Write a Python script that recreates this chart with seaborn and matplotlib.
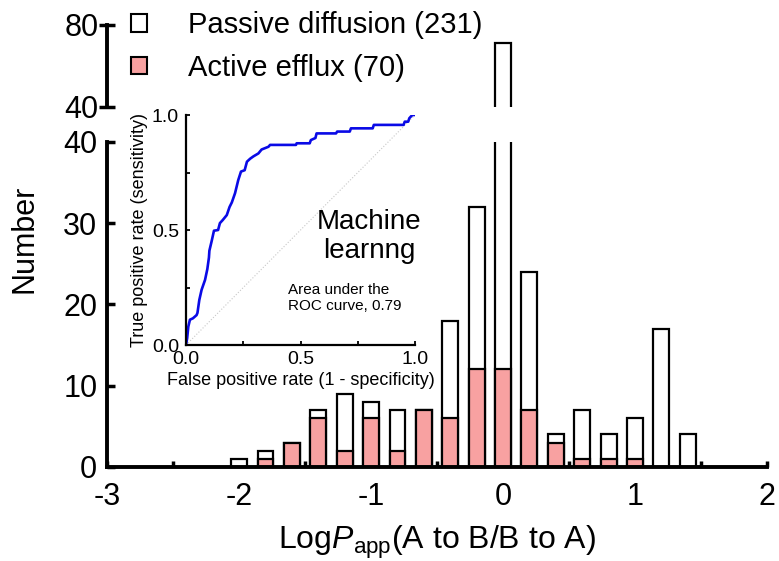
import matplotlib
matplotlib.use("Agg")
import matplotlib.pyplot as plt
import seaborn as sns
import pandas as pd
from matplotlib.patches import Patch

# ---------------- data ----------------
bin_centers = [-2.0, -1.8, -1.6, -1.4, -1.2, -1.0, -0.8, -0.6, -0.4, -0.2,
               0.0, 0.2, 0.4, 0.6, 0.8, 1.0, 1.2, 1.4]
passive = [1, 2, 3, 7, 9, 8, 7, 7, 18, 32, 71, 24, 4, 7, 4, 6, 17, 4]
active = [0, 1, 3, 6, 2, 6, 2, 7, 6, 12, 12, 7, 3, 1, 1, 1, 0, 0]
legend_labels = ["Passive diffusion (231)", "Active efflux (70)"]

roc_fpr = [0.000, 0.005, 0.010, 0.017, 0.030, 0.046, 0.050, 0.058, 0.068, 0.083,
           0.093, 0.100, 0.102, 0.112, 0.122, 0.140, 0.148, 0.160, 0.178, 0.190,
           0.200, 0.214, 0.228, 0.240, 0.256, 0.266, 0.280, 0.294, 0.316, 0.330,
           0.360, 0.367, 0.480, 0.483, 0.540, 0.545, 0.565, 0.570, 0.655, 0.660,
           0.715, 0.720, 0.815, 0.820, 0.950, 0.955, 0.970, 0.975, 0.988, 1.000]
roc_tpr = [0.000, 0.030, 0.080, 0.110, 0.116, 0.130, 0.140, 0.196, 0.240, 0.283,
           0.330, 0.380, 0.410, 0.452, 0.497, 0.500, 0.530, 0.543, 0.565, 0.600,
           0.620, 0.660, 0.717, 0.754, 0.760, 0.797, 0.810, 0.820, 0.833, 0.850,
           0.862, 0.870, 0.870, 0.877, 0.877, 0.891, 0.900, 0.920, 0.920, 0.928,
           0.928, 0.942, 0.942, 0.957, 0.957, 0.971, 0.971, 0.986, 1.000, 1.000]

x_ticks = [-3, -2, -1, 0, 1, 2]
y_ticks_low = [0, 10, 20, 30, 40]
y_ticks_high = [40, 80]
roc_ticks = [0.0, 0.5, 1.0]

PINK = "#F8A1A1"
# --------------------------------------

sns.set_style("ticks")
plt.rcParams["font.family"] = ["Liberation Sans", "DejaVu Sans"]
plt.rcParams["mathtext.fontset"] = "custom"
plt.rcParams["mathtext.rm"] = "Liberation Sans"
plt.rcParams["mathtext.it"] = "Liberation Sans:italic"
for k in ("text.color", "axes.labelcolor", "xtick.color", "ytick.color", "axes.edgecolor"):
    plt.rcParams[k] = "black"

df = pd.DataFrame({"x": bin_centers, "passive": passive, "active": active})
roc = pd.DataFrame({"fpr": roc_fpr, "tpr": roc_tpr})

fig = plt.figure(figsize=(7.79, 5.61), dpi=100)
ax_lo = fig.add_axes([0.1374, 0.1676, 0.8472, 0.5793])
ax_hi = fig.add_axes([0.1374, 0.8093, 0.8472, 0.1462])

for ax in (ax_lo, ax_hi):
    sns.barplot(data=df, x="x", y="passive", native_scale=True, width=0.6,
                color="white", edgecolor="black", linewidth=1.6, saturation=1,
                errorbar=None, ax=ax)
    sns.barplot(data=df, x="x", y="active", native_scale=True, width=0.6,
                color=PINK, edgecolor="black", linewidth=1.6, saturation=1,
                errorbar=None, ax=ax)
    ax.set_xlim(-3, 2)
    ax.set_xlabel("")
    ax.set_ylabel("")
    for s in ("top", "right"):
        ax.spines[s].set_visible(False)
    ax.spines["left"].set_linewidth(2.8)
    ax.spines["bottom"].set_linewidth(2.8)
    ax.patch.set_alpha(0)

ax_lo.set_ylim(0, 40)
ax_lo.set_yticks(y_ticks_low)
ax_lo.set_xticks(x_ticks)
ax_lo.set_xticks([-2.5, -1.5, -0.5, 0.5, 1.5], minor=True)
ax_lo.set_xticklabels([str(t) for t in x_ticks])
ax_lo.tick_params(axis="both", which="major", labelsize=22, width=2.5)
ax_lo.tick_params(axis="y", direction="in", length=6, pad=7)
ax_lo.tick_params(axis="x", which="both", direction="in", length=4.5, width=2.5, pad=11)
ax_lo.set_xlabel(r"Log$\it{P}$$_{\rm{app}}$(A to B/B to A)", fontsize=23, labelpad=8)

ax_hi.set_ylim(40, 80)
ax_hi.set_yticks(y_ticks_high)
ax_hi.spines["bottom"].set_visible(False)
ax_hi.tick_params(axis="x", which="both", bottom=False, labelbottom=False)
ax_hi.tick_params(axis="y", direction="inout", length=12, width=2.5, labelsize=22, pad=0)

fig.text(0.032, 0.575, "Number", rotation=90, fontsize=22, ha="center", va="center")

handles = [Patch(facecolor="white", edgecolor="black", linewidth=1.5),
           Patch(facecolor=PINK, edgecolor="black", linewidth=1.5)]
fig.legend(handles, legend_labels, loc="upper left",
           bbox_to_anchor=(0.165, 0.985), frameon=False, fontsize=21,
           handlelength=0.55, handleheight=0.55, handletextpad=1.4,
           labelspacing=0.5, borderpad=0.1, borderaxespad=0)

# inset ROC
ax_in = fig.add_axes([0.2388, 0.385, 0.294, 0.41])
ax_in.plot([0, 1], [0, 1], color="#c8c8c8", lw=0.8, ls=":")
sns.lineplot(data=roc, x="fpr", y="tpr", sort=False, estimator=None,
             color="#0A0AE6", lw=1.9, ax=ax_in)
ax_in.set_xlim(0, 1)
ax_in.set_ylim(0, 1)
ax_in.set_xticks(roc_ticks)
ax_in.set_yticks(roc_ticks)
ax_in.set_xticks([0.25, 0.75], minor=True)
ax_in.set_yticks([0.25, 0.75], minor=True)
ax_in.set_xticklabels(["0.0", "0.5", "1.0"])
ax_in.set_yticklabels(["0.0", "0.5", "1.0"])
ax_in.tick_params(which="both", direction="in", length=3, width=1.3, labelsize=14)
ax_in.tick_params(axis="x", pad=4)
ax_in.tick_params(axis="y", pad=5)
for s in ("top", "right"):
    ax_in.spines[s].set_visible(False)
for s in ("left", "bottom"):
    ax_in.spines[s].set_linewidth(1.6)
ax_in.patch.set_alpha(0)
ax_in.set_xlabel("False positive rate (1 - specificity)", fontsize=13, labelpad=3)
ax_in.set_ylabel("True positive rate (sensitivity)", fontsize=13, labelpad=3)
ax_in.text(0.80, 0.47, "Machine\nlearnng", fontsize=20, ha="center", va="center",
           linespacing=1.15, transform=ax_in.transAxes)
ax_in.text(0.445, 0.205, "Area under the\nROC curve, 0.79", fontsize=11,
           ha="left", va="center", linespacing=1.15, transform=ax_in.transAxes)

fig.savefig("out.png", dpi=100)
